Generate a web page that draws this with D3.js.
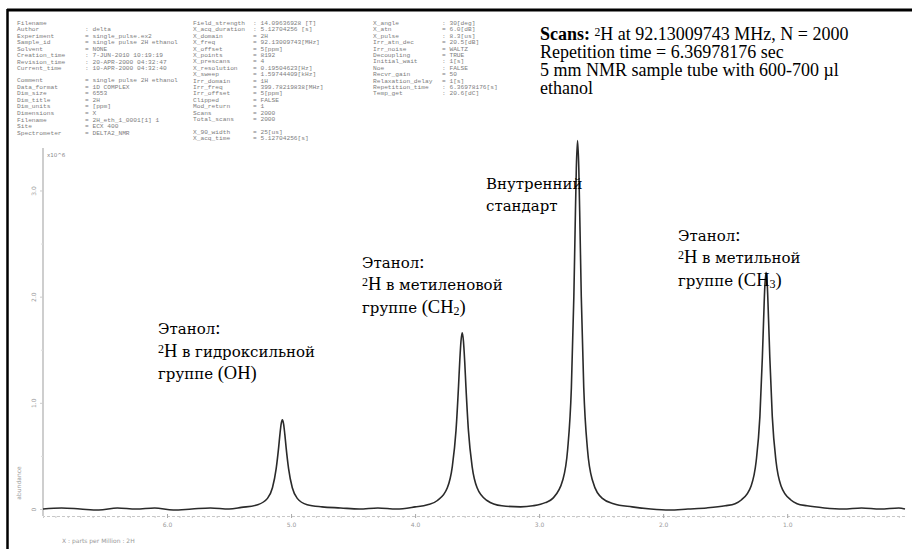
<!DOCTYPE html>
<html>
<head>
<meta charset="utf-8">
<script src="https://cdn.jsdelivr.net/npm/d3@7"></script>
<style>
  body { margin: 0; background: #fff; }
  svg { display: block; }
</style>
</head>
<body>
<div id="chart"></div>
<script>
// spectrum: chemical shift (ppm) and abundance
const specPpm = [7.00, 6.85, 6.70, 6.55, 6.40, 6.25, 6.10, 5.95, 5.80, 5.65, 5.50, 5.40,
  5.27, 5.19, 5.15, 5.12, 5.10, 5.09, 5.08, 5.07, 5.06, 5.05, 5.04, 5.02, 4.99, 4.95, 4.87,
  4.75, 4.60, 4.45, 4.30, 4.15, 4.00, 3.90,
  3.82, 3.74, 3.70, 3.67, 3.65, 3.64, 3.63, 3.62, 3.61, 3.60, 3.59, 3.57, 3.54, 3.50, 3.42,
  3.30, 3.15, 3.05, 2.95,
  2.89, 2.81, 2.77, 2.74, 2.72, 2.71, 2.70, 2.69, 2.68, 2.67, 2.66, 2.64, 2.61, 2.57, 2.49,
  2.40, 2.25, 2.10, 1.95, 1.80, 1.65, 1.50, 1.42,
  1.37, 1.29, 1.25, 1.22, 1.20, 1.19, 1.18, 1.17, 1.16, 1.15, 1.14, 1.12, 1.09, 1.05, 0.97,
  0.92, 0.84, 0.70, 0.55, 0.40, 0.25, 0.10, 0.05];
const specAbs = [0.00, 0.01, 0.00, -0.01, 0.01, 0.00, 0.01, -0.01, 0.00, 0.01, 0.00, 0.015,
  0.04, 0.10, 0.20, 0.38, 0.58, 0.70, 0.80, 0.84, 0.80, 0.70, 0.58, 0.38, 0.20, 0.10, 0.04,
  0.02, 0.01, 0.00, 0.01, 0.00, 0.02, 0.04,
  0.08, 0.20, 0.40, 0.74, 1.15, 1.39, 1.58, 1.66, 1.58, 1.39, 1.15, 0.74, 0.40, 0.20, 0.08,
  0.03, 0.02, 0.03, 0.06,
  0.10, 0.27, 0.56, 1.14, 2.00, 2.62, 3.21, 3.47, 3.21, 2.62, 2.00, 1.14, 0.56, 0.27, 0.10,
  0.05, 0.02, 0.00, -0.01, 0.00, 0.01, 0.03, 0.05,
  0.085, 0.22, 0.45, 0.87, 1.43, 1.78, 2.10, 2.23, 2.10, 1.78, 1.43, 0.87, 0.45, 0.22, 0.085,
  0.05, 0.03, 0.01, 0.00, 0.01, 0.00, 0.01, 0.00];

const xTicks = [6, 5, 4, 3, 2, 1];
const xTickLabels = ['6.0', '5.0', '4.0', '3.0', '2.0', '1.0'];
const yTicks = [0, 1, 2, 3];
const yTickLabels = ['0', '1.0', '2.0', '3.0'];

// instrument header (grey block top left)
const metaNames1 = ['Filename', 'Author', 'Experiment', 'Sample_id', 'Solvent', 'Creation_time', 'Revision_time', 'Current_time'];
const metaVals1 = ['', ': delta', '= single_pulse.ex2', '= single pulse 2H ethanol', '= NONE', ': 7-JUN-2010 10:19:19', ': 20-APR-2000 04:32:47', ': 10-APR-2000 04:32:40'];
const metaNames2 = ['Comment', 'Data_format', 'Dim_size', 'Dim_title', 'Dim_units', 'Dimensions', 'Filename', 'Site', 'Spectrometer'];
const metaVals2 = ['= single pulse 2H ethanol', '= 1D COMPLEX', '= 6553', '= 2H', '= [ppm]', '= X', '= 2H_eth_1_0001[1] 1', '= ECX 400', '= DELTA2_NMR'];
const metaNames3 = ['Field_strength', 'X_acq_duration', 'X_domain', 'X_freq', 'X_offset', 'X_points', 'X_prescans',
  'X_resolution', 'X_sweep', 'Irr_domain', 'Irr_freq', 'Irr_offset', 'Clipped', 'Mod_return', 'Scans', 'Total_scans'];
const metaVals3 = [': 14.09636928 [T]', ': 5.12704256 [s]', '= 2H', '= 92.13009743[MHz]', '= 5[ppm]', '= 8192', '= 4',
  '= 0.19504623[Hz]', '= 1.59744409[kHz]', '= 1H', '= 399.78219838[MHz]', '= 5[ppm]', '= FALSE', '= 1', '= 2000', '= 2000'];
const metaNames4 = ['X_90_width', 'X_acq_time'];
const metaVals4 = ['= 25[us]', '= 5.12704256[s]'];
const metaNames5 = ['X_angle', 'X_atn', 'X_pulse', 'Irr_atn_dec', 'Irr_noise', 'Decoupling', 'Initial_wait',
  'Noe', 'Recvr_gain', 'Relaxation_delay', 'Repetition_time', 'Temp_get'];
const metaVals5 = [': 30[deg]', '= 6.0[dB]', ': 8.3[us]', '= 20.5[dB]', '= WALTZ', '= TRUE', ': 1[s]',
  ': FALSE', '= 50', '= 1[s]', ': 6.36978176[s]', ': 20.6[dC]'];

const width = 912;
const height = 549;

const svg = d3.select('#chart').append('svg')
  .attr('width', width)
  .attr('height', height);

svg.append('rect').attr('width', width).attr('height', height).attr('fill', '#fff');

// frame (only top and left edges are visible in the crop)
svg.append('line').attr('x1', 7).attr('x2', width).attr('y1', 10).attr('y2', 10)
  .attr('stroke', '#000').attr('stroke-width', 3);
svg.append('line').attr('x1', 7.5).attr('x2', 7.5).attr('y1', 9).attr('y2', height)
  .attr('stroke', '#000').attr('stroke-width', 2.5);

// header block
function metaBlock(names, vals, xName, xVal, y0, step) {
  const g = svg.append('g')
    .style('font-family', '"Liberation Mono", "DejaVu Sans Mono", monospace')
    .style('font-size', '6.2px')
    .attr('fill', '#7d7d7d');
  names.forEach((n, i) => {
    g.append('text').attr('x', xName).attr('y', y0 + i * step).text(n);
    g.append('text').attr('x', xVal).attr('y', y0 + i * step).text(vals[i]);
  });
}
metaBlock(metaNames1, metaVals1, 17, 85, 25, 6.43);
metaBlock(metaNames2, metaVals2, 17, 85, 82, 6.6);
metaBlock(metaNames3, metaVals3, 193, 253, 25, 6.4);
metaBlock(metaNames4, metaVals4, 193, 253, 134, 6.4);
metaBlock(metaNames5, metaVals5, 373, 442, 25, 6.4);

// scales
const x = d3.scaleLinear().domain([7.0, 0.05]).range([43, 905]);
const y = d3.scaleLinear().domain([0, 3.4]).range([509, 148]);

// x axis: dotted base with minor ticks
const xAxis = d3.axisBottom(x)
  .tickValues(d3.range(0.1, 7.0, 0.1))
  .tickSize(2)
  .tickFormat('');
const gx = svg.append('g')
  .attr('transform', 'translate(0,516)')
  .call(xAxis);
gx.select('.domain').attr('stroke', '#c8c8c8').attr('stroke-dasharray', '3,2');
gx.selectAll('.tick line').attr('stroke', '#c8c8c8');

const xMajor = d3.axisBottom(x)
  .tickValues(xTicks)
  .tickSize(4)
  .tickFormat((d, i) => xTickLabels[i]);
const gx2 = svg.append('g')
  .attr('transform', 'translate(0,514)')
  .call(xMajor);
gx2.select('.domain').remove();
gx2.selectAll('.tick line').attr('stroke', '#aaa');
gx2.selectAll('.tick text')
  .attr('fill', '#999')
  .attr('dy', 0)
  .attr('y', 13)
  .style('font-size', '6px')
  .style('font-family', 'DejaVu Sans, sans-serif');

// y axis
const yAxis = d3.axisLeft(y)
  .tickValues(yTicks)
  .tickSize(3)
  .tickFormat((d, i) => yTickLabels[i]);
const gy = svg.append('g')
  .attr('transform', 'translate(43,0)')
  .call(yAxis);
gy.select('.domain').attr('stroke', '#b4b4b4').attr('stroke-width', 1.3)
  .attr('d', 'M0,148V516');
gy.selectAll('.tick line').attr('stroke', '#ccc');
gy.selectAll('.tick text')
  .attr('fill', '#999')
  .attr('x', 0)
  .attr('dy', 0)
  .attr('text-anchor', 'middle')
  .attr('transform', 'translate(-7,0) rotate(-90)')
  .style('font-size', '6px')
  .style('font-family', 'DejaVu Sans, sans-serif');

const gyMinor = d3.axisLeft(y)
  .tickValues(d3.range(0.5, 3.4, 1))
  .tickSize(2)
  .tickFormat('');
svg.append('g').attr('transform', 'translate(43,0)').call(gyMinor)
  .call(g => g.select('.domain').remove())
  .selectAll('.tick line').attr('stroke', '#ddd');

svg.append('text')
  .attr('x', 47).attr('y', 157)
  .attr('fill', '#888')
  .style('font-size', '5.5px')
  .style('font-family', 'DejaVu Sans, sans-serif')
  .text('x10^6');

svg.append('text')
  .attr('transform', 'translate(21,483) rotate(-90)')
  .attr('text-anchor', 'middle')
  .attr('fill', '#999')
  .style('font-size', '6px')
  .style('font-family', 'DejaVu Sans, sans-serif')
  .text('abundance');

svg.append('text')
  .attr('x', 62).attr('y', 543)
  .attr('fill', '#999')
  .style('font-size', '6px')
  .style('font-family', 'DejaVu Sans, sans-serif')
  .text('X : parts per Million : 2H');

// spectrum
const spec = specPpm.map((p, i) => ({ ppm: p, abs: specAbs[i] }));
const line = d3.line()
  .x((d) => x(d.ppm))
  .y((d) => y(d.abs))
  .curve(d3.curveMonotoneX);
svg.append('path')
  .datum(spec)
  .attr('fill', 'none')
  .attr('stroke', '#2a2a2a')
  .attr('stroke-width', 1.6)
  .attr('d', line);

// annotations (Liberation Serif has no Cyrillic here, so Cyrillic runs use a scaled DejaVu Serif)
const serif = '"Liberation Serif", "Times New Roman", serif';
function richLine(xp, yp, parts, size) {
  const t = svg.append('text')
    .attr('x', xp).attr('y', yp)
    .style('font-family', serif)
    .style('font-size', size + 'px')
    .attr('fill', '#000');
  parts.forEach((p) => {
    if (p.sup || p.sub || p.b) {
      const s = t.append('tspan').text(p.t);
      if (p.b) s.style('font-weight', 'bold');
      if (p.sup) s.attr('baseline-shift', '35%').style('font-size', (size * 0.65) + 'px');
      if (p.sub) s.attr('baseline-shift', '-20%').style('font-size', (size * 0.65) + 'px');
      return;
    }
    p.t.match(/[\u0400-\u04FF]+|[^\u0400-\u04FF]+/g).forEach((run) => {
      const s = t.append('tspan').text(run);
      if (/[\u0400-\u04FF]/.test(run)) {
        s.style('font-family', '"DejaVu Serif", serif').style('font-size', (size * 0.81) + 'px');
      }
    });
  });
}

const fs = 18;
richLine(540, 40, [{ t: 'Scans: ', b: true }, { t: '2', sup: true }, { t: 'H at 92.13009743 MHz, N = 2000' }], fs);
richLine(540, 58, [{ t: 'Repetition time = 6.36978176 sec' }], fs);
richLine(540, 76, [{ t: '5 mm NMR sample tube with 600-700 µl' }], fs);
richLine(540, 93.5, [{ t: 'ethanol' }], fs);

const lfs = 18.5;
richLine(158, 334, [{ t: 'Этанол:' }], lfs);
richLine(158, 357, [{ t: '2', sup: true }, { t: 'H в гидроксильной' }], lfs);
richLine(158, 379, [{ t: 'группе (OH)' }], lfs);

richLine(362, 268, [{ t: 'Этанол:' }], lfs);
richLine(362, 290, [{ t: '2', sup: true }, { t: 'H в метиленовой' }], lfs);
richLine(362, 313, [{ t: 'группе (CH' }, { t: '2', sub: true }, { t: ')' }], lfs);

richLine(486, 189, [{ t: 'Внутренний' }], lfs);
richLine(486, 211, [{ t: 'стандарт' }], lfs);

richLine(678, 241, [{ t: 'Этанол:' }], lfs);
richLine(678, 263, [{ t: '2', sup: true }, { t: 'H в метильной' }], lfs);
richLine(678, 286, [{ t: 'группе (CH' }, { t: '3', sub: true }, { t: ')' }], lfs);
</script>
</body>
</html>
